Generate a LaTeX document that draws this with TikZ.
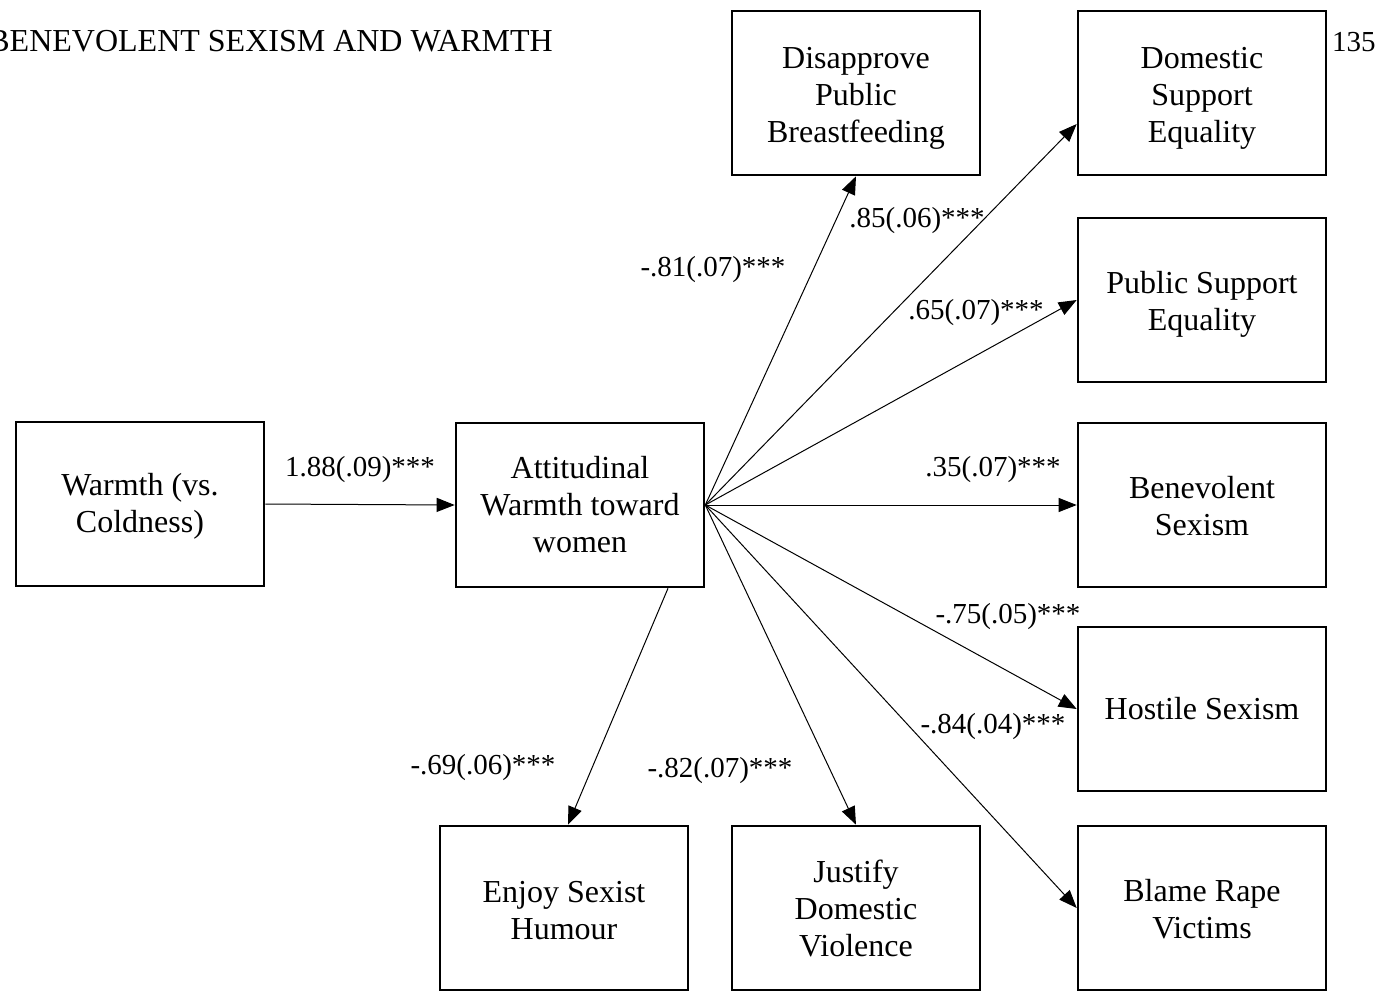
\documentclass[tikz,border=0pt]{standalone}
\usepackage{fontspec}
\setmainfont{Liberation Serif}
\usetikzlibrary{arrows.meta,calc}
\newcommand{\dn}[1]{\rule{0pt}{#1}}
\begin{document}
\begin{tikzpicture}[x=0.5pt,y=-0.5pt,
 txt/.style={font=\fontsize{14.5pt}{18.5pt}\selectfont},
 btxt/.style={font=\fontsize{16pt}{18.5pt}\selectfont},
 box/.style={btxt,draw,line width=1.3pt,minimum width=124pt,minimum height=82pt,align=center,inner sep=2pt},
 lab/.style={txt,inner sep=0pt},
 arr/.style={line width=0.5pt,-{Triangle[length=9pt,width=7pt]}}]
\useasboundingbox (0,0) rectangle (1378,992);
\node[btxt,inner sep=0pt,anchor=base west] (head) at (-12,51) {BENEVOLENT SEXISM AND WARMTH};
\node[txt,inner sep=0pt,anchor=base east] (page) at (1376,51) {135};

\node[box] (warm) at (140,504) {\dn{13pt}Warmth (vs.\\Coldness)};
\node[box] (att) at (580,505) {Attitudinal\\Warmth toward\\women};
\node[box] (dis) at (856,93) {\dn{16pt}Disapprove\\Public\\Breastfeeding};
\node[box] (dom) at (1202,93) {\dn{16pt}Domestic\\Support\\Equality};
\node[box] (pub) at (1202,300) {\dn{15pt}Public Support\\Equality};
\node[box] (ben) at (1202,505) {\dn{12.5pt}Benevolent\\Sexism};
\node[box] (hos) at (1202,709) {Hostile Sexism};
\node[box] (bla) at (1202,908) {\dn{12.5pt}Blame Rape\\Victims};
\node[box] (enj) at (564,908) {\dn{13pt}Enjoy Sexist\\Humour};
\node[box] (jus) at (856,908) {Justify\\Domestic\\Violence};

\draw[arr] (warm.east) -- (att.west);
\draw[arr] (att.east) -- (dis.south);
\draw[arr] (att.east) -- ($(dom.west)+(0,31)$);
\draw[arr] (att.east) -- (pub.west);
\draw[arr] (att.east) -- (ben.west);
\draw[arr] (att.east) -- (hos.west);
\draw[arr] (att.east) -- (bla.west);
\draw[arr] (att.east) -- (jus.north);
\draw[arr] ($(att.south)+(88,0)$) -- ($(enj.north)+(4,0)$);

\node[lab] (l1) at (360,470) {1.88(.09)***};
\node[lab] (l2) at (713,270) {-.81(.07)***};
\node[lab] (l3) at (917,221) {.85(.06)***};
\node[lab] (l4) at (976,313) {.65(.07)***};
\node[lab] (l5) at (993,470) {.35(.07)***};
\node[lab] (l6) at (1008,617) {-.75(.05)***};
\node[lab] (l7) at (993,727) {-.84(.04)***};
\node[lab] (l8) at (483,768) {-.69(.06)***};
\node[lab] (l9) at (720,771) {-.82(.07)***};
\end{tikzpicture}
\end{document}
